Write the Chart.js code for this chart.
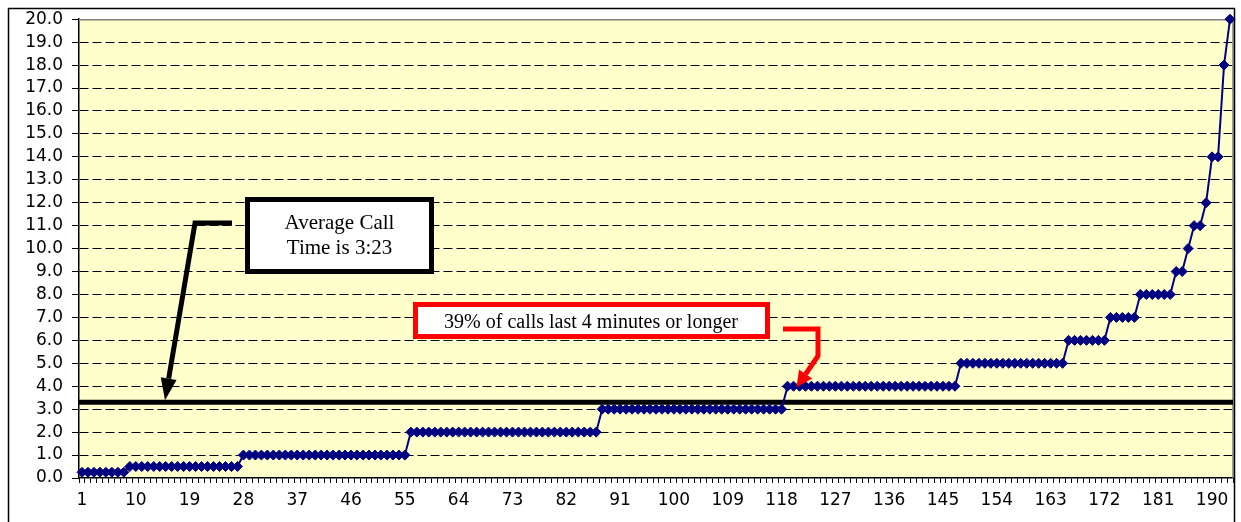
<!DOCTYPE html>
<html>
<head>
<meta charset="utf-8">
<script src="https://cdn.jsdelivr.net/npm/chart.js@4.4.0/dist/chart.umd.min.js"></script>
<style>
  body { margin: 0; background: #fff; }
  #wrap { width: 1241px; height: 522px; }
</style>
</head>
<body>
<div id="wrap"><canvas id="callChart" width="1241" height="522"></canvas></div>
<script>
// call length in minutes, sorted, one value per call
var callMinutes = [
  0.25,0.25,0.25,0.25,0.25,0.25,0.25,0.25,
  0.5,0.5,0.5,0.5,0.5,0.5,0.5,0.5,0.5,0.5,
  0.5,0.5,0.5,0.5,0.5,0.5,0.5,0.5,0.5,
  1,1,1,1,1,1,1,1,1,1,
  1,1,1,1,1,1,1,1,1,1,
  1,1,1,1,1,1,1,1,
  2,2,2,2,2,2,2,2,2,2,
  2,2,2,2,2,2,2,2,2,2,
  2,2,2,2,2,2,2,2,2,2,
  2,2,
  3,3,3,3,3,3,3,3,3,3,
  3,3,3,3,3,3,3,3,3,3,
  3,3,3,3,3,3,3,3,3,3,
  3,
  4,4,4,4,4,4,4,4,4,4,
  4,4,4,4,4,4,4,4,4,4,
  4,4,4,4,4,4,4,4,4,
  5,5,5,5,5,5,5,5,5,5,
  5,5,5,5,5,5,5,5,
  6,6,6,6,6,6,6,
  7,7,7,7,7,
  8,8,8,8,8,8,
  9,9,10,11,11,12,14,14,18,20
];

var callNumbers = [];
for (var n = 1; n <= callMinutes.length; n++) callNumbers.push(String(n));

var yMin = 0;
var yMax = 20;
var yStep = 1;
var labelEvery = 9;

var averageMinutes = 3.3;
var averageText = ['Average Call', 'Time is 3:23'];
var longCallText = '39% of calls last 4 minutes or longer';

function arrowHead(ctx, fromX, fromY, tipX, tipY, len, half, color) {
  var ang = Math.atan2(tipY - fromY, tipX - fromX);
  var bx = tipX - len * Math.cos(ang), by = tipY - len * Math.sin(ang);
  ctx.fillStyle = color;
  ctx.beginPath();
  ctx.moveTo(tipX, tipY);
  ctx.lineTo(bx + half * Math.sin(ang), by - half * Math.cos(ang));
  ctx.lineTo(bx - half * Math.sin(ang), by + half * Math.cos(ang));
  ctx.closePath();
  ctx.fill();
  return [bx, by];
}

var framePlugin = {
  id: 'frame',
  beforeDraw: function(chart) {
    var ctx = chart.ctx, a = chart.chartArea;
    ctx.save();
    ctx.fillStyle = '#fff';
    ctx.fillRect(0, 0, chart.width, chart.height);
    ctx.fillStyle = '#FFFFCC';
    ctx.fillRect(a.left, a.top, a.right - a.left, a.bottom - a.top);
    ctx.restore();
  },
  beforeDatasetsDraw: function(chart) {
    var ctx = chart.ctx, a = chart.chartArea;
    var y = chart.scales.y.getPixelForValue(averageMinutes);
    ctx.save();
    // plot border (top/right)
    ctx.strokeStyle = '#808080';
    ctx.lineWidth = 1.5;
    ctx.beginPath();
    ctx.moveTo(a.left, a.top + 0.5);
    ctx.lineTo(a.right, a.top + 0.5);
    ctx.lineTo(a.right, a.bottom);
    ctx.stroke();
    // average line
    ctx.strokeStyle = '#000';
    ctx.lineWidth = 5;
    ctx.beginPath();
    ctx.moveTo(a.left, y);
    ctx.lineTo(a.right, y);
    ctx.stroke();
    ctx.restore();
  },
  afterDraw: function(chart) {
    var ctx = chart.ctx;
    var ys = chart.scales.y, xs = chart.scales.x;
    ctx.save();
    // outer frame
    ctx.strokeStyle = '#000';
    ctx.lineWidth = 1.5;
    ctx.beginPath();
    ctx.moveTo(8.5, chart.height);
    ctx.lineTo(8.5, 8.5);
    ctx.lineTo(1234.5, 8.5);
    ctx.lineTo(1234.5, chart.height);
    ctx.stroke();

    // black callout
    var avgY = ys.getPixelForValue(averageMinutes);
    ctx.strokeStyle = '#000';
    ctx.lineWidth = 5;
    var base = arrowHead(ctx, 195, 223, 165, avgY - 2, 22, 8, '#000');
    ctx.beginPath();
    ctx.moveTo(232, 223);
    ctx.lineTo(195, 223);
    ctx.lineTo(base[0], base[1]);
    ctx.stroke();
    ctx.fillStyle = '#fff';
    ctx.fillRect(247.5, 199.5, 184, 72);
    ctx.strokeRect(247.5, 199.5, 184, 72);
    ctx.fillStyle = '#000';
    ctx.font = '21px "Liberation Serif", "Times New Roman", serif';
    ctx.textAlign = 'center';
    ctx.textBaseline = 'alphabetic';
    ctx.fillText(averageText[0], 339.5, 229);
    ctx.fillText(averageText[1], 339.5, 254);

    // red callout
    var tipX = xs.getPixelForValue(118) + 9;
    var tipY = ys.getPixelForValue(4) + 1;
    ctx.strokeStyle = '#FF0000';
    var rb = arrowHead(ctx, 818, 356, tipX, tipY, 16, 8, '#FF0000');
    ctx.beginPath();
    ctx.moveTo(783, 329);
    ctx.lineTo(818, 329);
    ctx.lineTo(818, 356);
    ctx.lineTo(rb[0], rb[1]);
    ctx.stroke();
    ctx.fillStyle = '#fff';
    ctx.fillRect(415.5, 304.5, 352, 32);
    ctx.strokeRect(415.5, 304.5, 352, 32);
    ctx.fillStyle = '#000';
    ctx.font = '20px "Liberation Serif", "Times New Roman", serif';
    ctx.fillText(longCallText, 591, 328);
    ctx.restore();
  }
};

new Chart(document.getElementById('callChart'), {
  type: 'line',
  data: {
    labels: callNumbers,
    datasets: [{
      label: 'Call time',
      data: callMinutes,
      borderColor: '#000080',
      borderWidth: 2,
      backgroundColor: '#000080',
      pointStyle: 'rectRot',
      pointRadius: 5,
      pointBackgroundColor: '#000080',
      pointBorderColor: '#000080',
      pointBorderWidth: 1,
      tension: 0,
      fill: false,
      clip: false
    }]
  },
  options: {
    responsive: false,
    animation: false,
    layout: { padding: { top: 19, right: 8, left: 0, bottom: 0 } },
    plugins: {
      legend: { display: false },
      tooltip: { enabled: false }
    },
    scales: {
      x: {
        offset: true,
        afterFit: function(s) { s.height = 44; },
        grid: {
          offset: true,
          drawOnChartArea: false,
          drawTicks: true,
          tickLength: 5,
          tickColor: '#000',
          tickWidth: 1
        },
        border: { display: true, color: '#000', width: 1.5 },
        ticks: {
          autoSkip: false,
          maxRotation: 0,
          padding: 7,
          color: '#000',
          font: { family: '"DejaVu Sans", sans-serif', size: 17 },
          callback: function(v, i) { return i % labelEvery === 0 ? callNumbers[i] : ''; }
        }
      },
      y: {
        min: yMin,
        max: yMax,
        afterFit: function(s) { s.width = 79; },
        grid: {
          color: function(c) { return (c.tick && (c.tick.value === yMax || c.tick.value === yMin)) ? 'rgba(0,0,0,0)' : '#000'; },
          lineWidth: 1,
          drawTicks: true,
          tickLength: 7,
          tickColor: '#000',
          tickBorderDash: [],
          tickWidth: 1
        },
        border: { display: true, color: '#000', width: 1.5, dash: [9, 4] },
        ticks: {
          stepSize: yStep,
          autoSkip: false,
          padding: 9,
          color: '#000',
          font: { family: '"DejaVu Sans", sans-serif', size: 17 },
          callback: function(v) { return v.toFixed(1); }
        }
      }
    }
  },
  plugins: [framePlugin]
});
</script>
</body>
</html>
